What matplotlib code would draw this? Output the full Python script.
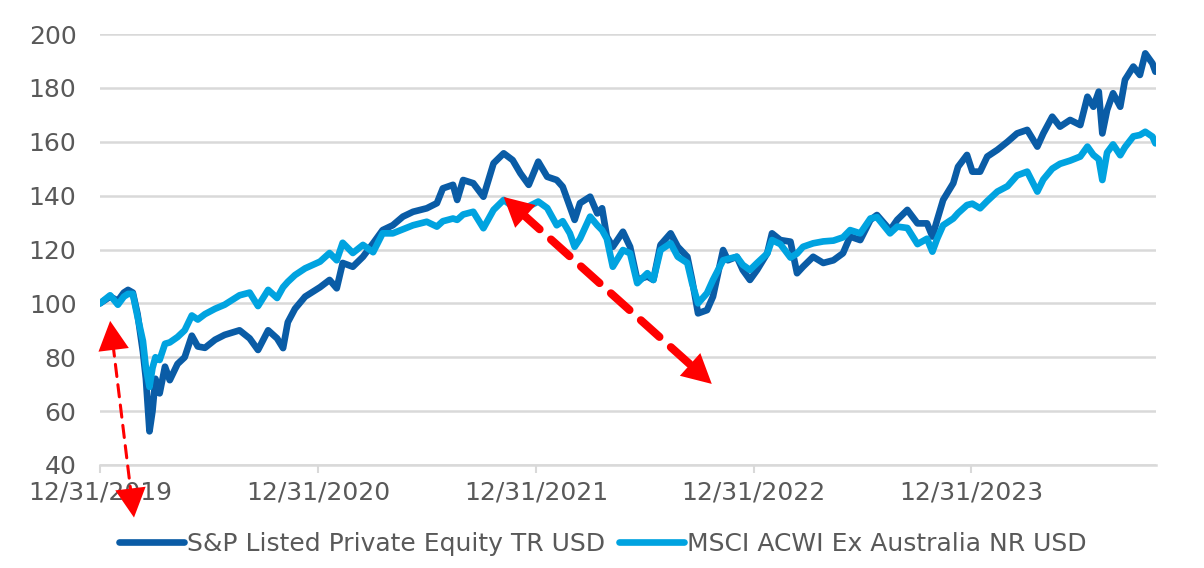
import matplotlib
matplotlib.use("Agg")
import matplotlib.pyplot as plt
import matplotlib.dates as mdates
import pandas as pd
from matplotlib.patches import ArrowStyle

# ---------------- data ----------------
dates = [
    "2019-12-31", "2020-01-17", "2020-01-30", "2020-02-09", "2020-02-16", "2020-02-24", "2020-03-03", "2020-03-12", "2020-03-17", "2020-03-23",
    "2020-03-28", "2020-04-02", "2020-04-09", "2020-04-18", "2020-04-26", "2020-05-09", "2020-05-21", "2020-06-02", "2020-06-12", "2020-06-24",
    "2020-07-11", "2020-07-27", "2020-08-21", "2020-09-07", "2020-09-21", "2020-10-08", "2020-10-23", "2020-11-02", "2020-11-10", "2020-11-22",
    "2020-12-09", "2021-01-03", "2021-01-19", "2021-01-31", "2021-02-10", "2021-02-27", "2021-03-16", "2021-04-02", "2021-04-18", "2021-05-05",
    "2021-05-22", "2021-06-08", "2021-07-01", "2021-07-18", "2021-07-28", "2021-08-14", "2021-08-21", "2021-08-31", "2021-09-17", "2021-10-04",
    "2021-10-21", "2021-11-07", "2021-11-22", "2021-12-05", "2021-12-19", "2022-01-04", "2022-01-19", "2022-02-04", "2022-02-14", "2022-02-26",
    "2022-03-06", "2022-03-15", "2022-04-01", "2022-04-13", "2022-04-21", "2022-04-29", "2022-05-09", "2022-05-26", "2022-06-07", "2022-06-19",
    "2022-07-06", "2022-07-16", "2022-07-28", "2022-08-14", "2022-08-26", "2022-09-11", "2022-09-19", "2022-09-29", "2022-10-14", "2022-10-24",
    "2022-11-10", "2022-11-18", "2022-12-03", "2022-12-13", "2022-12-25", "2023-01-06", "2023-01-23", "2023-01-31", "2023-02-14", "2023-03-03",
    "2023-03-14", "2023-03-24", "2023-04-10", "2023-04-27", "2023-05-14", "2023-05-30", "2023-06-11", "2023-06-28", "2023-07-15", "2023-07-26",
    "2023-08-17", "2023-08-29", "2023-09-15", "2023-10-02", "2023-10-18", "2023-10-27", "2023-11-04", "2023-11-14", "2023-12-01", "2023-12-09",
    "2023-12-24", "2024-01-02", "2024-01-15", "2024-01-27", "2024-02-13", "2024-03-01", "2024-03-17", "2024-04-03", "2024-04-20", "2024-04-30",
    "2024-05-15", "2024-05-28", "2024-06-14", "2024-07-01", "2024-07-13", "2024-07-23", "2024-08-01", "2024-08-07", "2024-08-15", "2024-08-25",
    "2024-09-06", "2024-09-14", "2024-09-28", "2024-10-09", "2024-10-18", "2024-10-30", "2024-11-04",
]

sp_listed_pe = [
    100, 102.5, 101, 104, 105, 104, 96, 82, 72, 52.5,
    60, 72, 66.6, 76.5, 71.5, 77.5, 80, 88, 84, 83.5,
    86.5, 88.3, 90, 87, 82.7, 90, 87, 83.4, 93, 98,
    102.5, 106, 108.7, 105.6, 115, 113.6, 117.3, 122.3, 127.2, 129,
    132.2, 134, 135.3, 137.2, 142.7, 144, 138.4, 145.8, 144.6, 139.6,
    152, 155.7, 153.2, 148.3, 144, 152.6, 147, 145.8, 143.3, 135.9,
    131, 137.2, 139.6, 133.4, 135.3, 124.8, 121, 126.6, 121, 108.7,
    110, 108.7, 121.7, 126, 121, 117.3, 108.7, 96.3, 97.5, 102.5,
    119.8, 116, 117.3, 112.4, 108.7, 112.4, 118.6, 126, 123.5, 122.9,
    111.2, 113.6, 117.3, 115, 116, 118.6, 124.8, 123.5, 131, 132.8,
    127.2, 131, 134.7, 129.7, 129.7, 124.8, 131, 138.4, 144.6, 150.7,
    155.1, 148.9, 148.9, 154.5, 157, 160, 163.1, 164.4, 158.2, 163.1,
    169.3, 165.6, 168.1, 166.2, 176.7, 173, 178.6, 163.1, 171.8, 178,
    173, 183, 187.9, 184.8, 192.8, 189.1, 186,
]

msci_acwi_ex_aus = [
    100, 103, 99.5, 102.5, 103.5, 103.5, 95, 86, 76, 69,
    76, 80, 79, 85, 85.5, 87.5, 90, 95.5, 94, 96,
    98, 99.5, 103, 104, 99, 105, 102, 106, 108, 110.5,
    113, 115.5, 118.7, 116, 122.5, 118.7, 121.7, 119, 126, 126,
    127.5, 129, 130.3, 128.5, 130.5, 131.5, 131, 133, 134, 127.9,
    134.7, 138.4, 136, 134, 136, 137.8, 135.4, 129, 130.5, 126,
    121, 124, 132.2, 129, 127.2, 124, 113.6, 119.8, 118.6, 107.5,
    111.2, 108.7, 119.8, 122.3, 117.3, 115, 107.5, 100, 103.8, 108.7,
    116, 116.5, 117.3, 114.3, 112.4, 115, 118.5, 123.5, 122, 117,
    118.5, 121, 122.3, 123, 123.3, 124.5, 127.2, 126, 131.5, 132,
    126, 128.5, 128, 122, 124, 119.2, 124, 129, 131.5, 133.5,
    136.5, 137, 135.3, 138, 141.5, 143.5, 147.5, 148.9, 141.5, 146,
    150, 151.8, 153, 154.5, 158.2, 155.1, 153.5, 145.8, 156, 159,
    155, 158, 162, 162.5, 163.7, 161.9, 159.4,
]

series_names = ["S&P Listed Private Equity TR USD", "MSCI ACWI Ex Australia NR USD"]
tick_dates = ["2019-12-31", "2020-12-31", "2021-12-31", "2022-12-31", "2023-12-31"]
tick_labels = ["12/31/2019", "12/31/2020", "12/31/2021", "12/31/2022", "12/31/2023"]
y_ticks = [40, 60, 80, 100, 120, 140, 160, 180, 200]

# annotation arrows (date, value) pairs
arrow1 = (("2020-01-17", 93.5), ("2020-02-26", 20.5))
arrow2 = (("2021-11-07", 139.5), ("2022-10-22", 70.1))

# ---------------- style ----------------
plt.rcParams["font.family"] = ["DejaVu Sans"]
DARK = "#0A5CA6"
LIGHT = "#00A3E0"
GRID = "#D9D9D9"
TEXT = "#595959"
FS = 18

fig = plt.figure(figsize=(12.04, 5.68), dpi=100)
ax = fig.add_axes([100 / 1204, 103 / 568, 1056 / 1204, 431 / 568])

d = pd.to_datetime(dates)
ax.plot(d, sp_listed_pe, color=DARK, lw=4.8, solid_joinstyle="round",
        solid_capstyle="round", label=series_names[0], zorder=3)
ax.plot(d, msci_acwi_ex_aus, color=LIGHT, lw=4.8, solid_joinstyle="round",
        solid_capstyle="round", label=series_names[1], zorder=4)

ax.set_ylim(40, 200)
ax.set_xlim(pd.Timestamp("2019-12-31"), pd.Timestamp("2024-11-05"))
ax.set_yticks(y_ticks)
ax.set_xticks(pd.to_datetime(tick_dates))
ax.set_xticklabels(tick_labels)

ax.yaxis.grid(True, color=GRID, lw=1.8)
ax.set_axisbelow(True)
for s in ["top", "right", "left"]:
    ax.spines[s].set_visible(False)
ax.spines["bottom"].set_color(GRID)
ax.spines["bottom"].set_linewidth(1.8)
ax.tick_params(axis="y", length=0, pad=17, labelsize=FS, labelcolor=TEXT)
ax.tick_params(axis="x", length=6, width=1.5, color=GRID, pad=5,
               labelsize=FS, labelcolor=TEXT)

# legend
fig.legend(loc="center", bbox_to_anchor=(603 / 1204, 24 / 568), ncol=2,
           frameon=False, handlelength=2.6, handletextpad=0.12,
           columnspacing=0.55, fontsize=FS, labelcolor=TEXT)


def double_arrow(pair, lw, dash, hl, hw):
    (d1, v1), (d2, v2) = pair
    p1 = (mdates.date2num(pd.Timestamp(d1)), v1)
    p2 = (mdates.date2num(pd.Timestamp(d2)), v2)
    ax.annotate("", xy=p2, xytext=p1, annotation_clip=False, zorder=6,
                arrowprops=dict(arrowstyle="-", lw=lw, color="red",
                                linestyle=(0, dash), shrinkA=hl * 0.8,
                                shrinkB=hl * 0.8, zorder=6))
    for tip, other in ((p1, p2), (p2, p1)):
        ax.annotate("", xy=tip, xytext=other, annotation_clip=False, zorder=7,
                    arrowprops=dict(arrowstyle=ArrowStyle("-|>", head_length=hl,
                                                          head_width=hw),
                                    mutation_scale=1, lw=0, fc="red", ec="none",
                                    shrinkA=0, shrinkB=0, zorder=7))


double_arrow(arrow1, 2.2, (4, 2.7), 21, 11)
double_arrow(arrow2, 5.8, (3.1, 1.9), 21, 11)

fig.savefig("out.png", dpi=100)
